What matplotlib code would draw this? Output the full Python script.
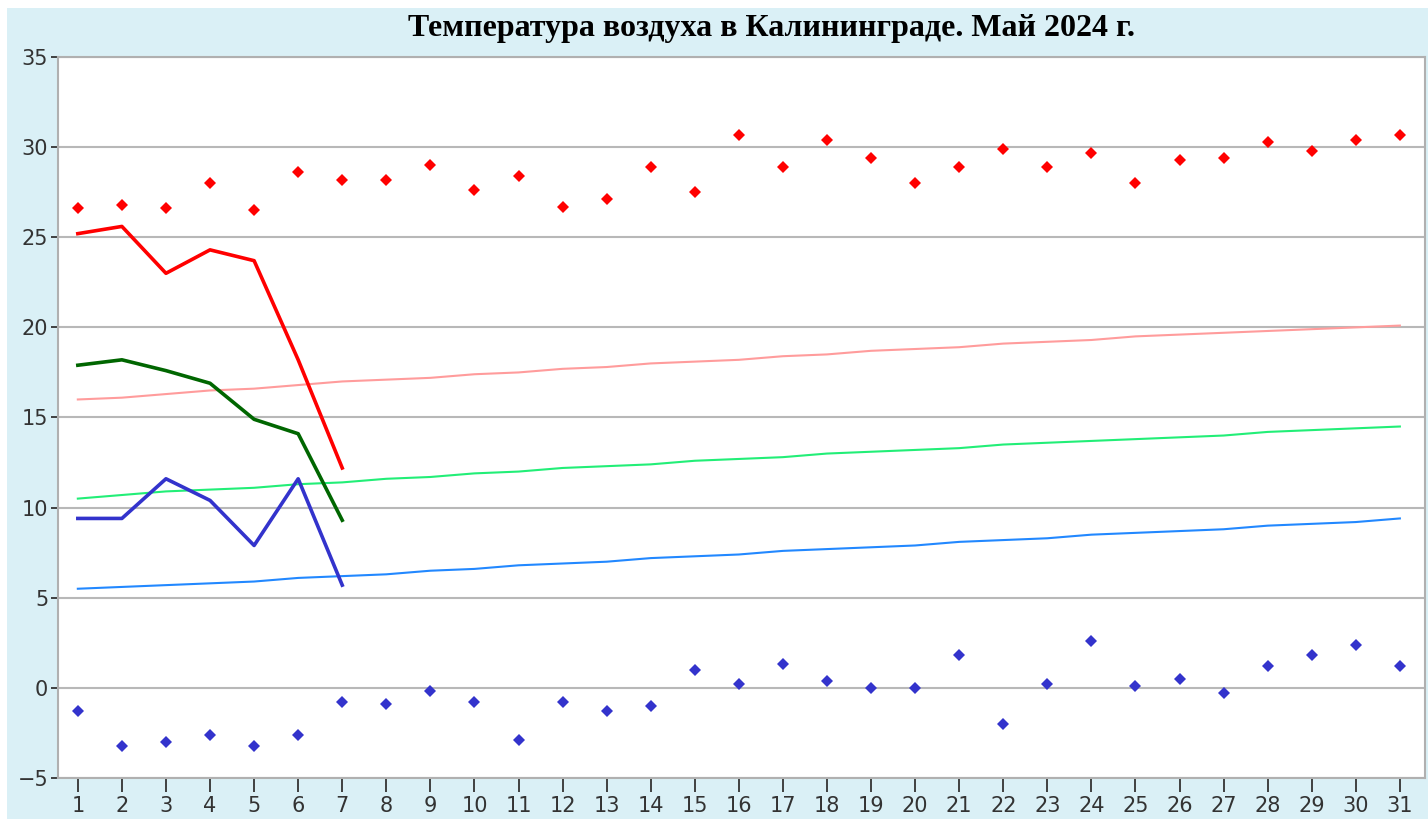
import numpy as np
import matplotlib.pyplot as plt
from matplotlib.patches import Rectangle

days = np.arange(1, 32)

# record max / min for each day of May
rec_max = [26.6, 26.8, 26.6, 28.0, 26.5, 28.6, 28.2, 28.2, 29.0, 27.6,
           28.4, 26.7, 27.1, 28.9, 27.5, 30.7, 28.9, 30.4, 29.4, 28.0,
           28.9, 29.9, 28.9, 29.7, 28.0, 29.3, 29.4, 30.3, 29.8, 30.4, 30.7]
rec_min = [-1.3, -3.2, -3.0, -2.6, -3.2, -2.6, -0.8, -0.9, -0.2, -0.8,
           -2.9, -0.8, -1.3, -1.0, 1.0, 0.2, 1.3, 0.4, 0.0, 0.0,
           1.8, -2.0, 0.2, 2.6, 0.1, 0.5, -0.3, 1.2, 1.8, 2.4, 1.2]

# climate normals
norm_max = [16.0, 16.1, 16.3, 16.5, 16.6, 16.8, 17.0, 17.1, 17.2, 17.4,
            17.5, 17.7, 17.8, 18.0, 18.1, 18.2, 18.4, 18.5, 18.7, 18.8,
            18.9, 19.1, 19.2, 19.3, 19.5, 19.6, 19.7, 19.8, 19.9, 20.0, 20.1]
norm_avg = [10.5, 10.7, 10.9, 11.0, 11.1, 11.3, 11.4, 11.6, 11.7, 11.9,
            12.0, 12.2, 12.3, 12.4, 12.6, 12.7, 12.8, 13.0, 13.1, 13.2,
            13.3, 13.5, 13.6, 13.7, 13.8, 13.9, 14.0, 14.2, 14.3, 14.4, 14.5]
norm_min = [5.5, 5.6, 5.7, 5.8, 5.9, 6.1, 6.2, 6.3, 6.5, 6.6,
            6.8, 6.9, 7.0, 7.2, 7.3, 7.4, 7.6, 7.7, 7.8, 7.9,
            8.1, 8.2, 8.3, 8.5, 8.6, 8.7, 8.8, 9.0, 9.1, 9.2, 9.4]

# May 2024 so far
days_2024 = [1, 2, 3, 4, 5, 6, 7]
max_2024 = [25.2, 25.6, 23.0, 24.3, 23.7, 18.2, 12.2]
avg_2024 = [17.9, 18.2, 17.6, 16.9, 14.9, 14.1, 9.3]
min_2024 = [9.4, 9.4, 11.6, 10.4, 7.9, 11.6, 5.7]

bg = '#daf0f6'
fig = plt.figure(figsize=(14.28, 8.19), dpi=100, facecolor='white')
fig.patches.append(Rectangle((7 / 1428, 0), 1, 1 - 8 / 819, transform=fig.transFigure,
                             facecolor=bg, edgecolor='none', zorder=-10))

ax = fig.add_axes([58 / 1428, 1 - 778 / 819, (1425 - 58) / 1428, (778 - 57) / 819])
ax.set_facecolor('white')

ax.plot(days, norm_max, color='#ff9c9c', lw=1.5, zorder=2)
ax.plot(days, norm_avg, color='#22ee77', lw=1.5, zorder=2)
ax.plot(days, norm_min, color='#2288ff', lw=1.5, zorder=2)

ax.plot(days, rec_max, 'D', color='#ff0000', ms=6, mew=0, zorder=3)
ax.plot(days, rec_min, 'D', color='#3333cc', ms=6, mew=0, zorder=3)

ax.plot(days_2024, max_2024, color='#ff0000', lw=2.6, zorder=4)
ax.plot(days_2024, avg_2024, color='#006600', lw=2.6, zorder=4)
ax.plot(days_2024, min_2024, color='#3333cc', lw=2.6, zorder=4)

ax.set_xlim(0.55, 31.57)
ax.set_ylim(-5, 35)
ax.set_xticks(days)
ax.set_yticks(np.arange(-5, 36, 5))
ax.set_yticklabels(['\u22125' if v == -5 else str(v) for v in range(-5, 36, 5)])
ax.grid(axis='y', color='#b8b8b8', lw=1.5, zorder=0)
ax.set_axisbelow(True)

for s in ax.spines.values():
    s.set_color('#b0b0b0')
    s.set_linewidth(1.5)

ax.tick_params(axis='y', length=5, width=1.3, color='#333333', labelsize=15,
               labelcolor='#333333', pad=2)
ax.tick_params(axis='x', length=10, width=1.3, color='#333333', labelsize=15,
               labelcolor='#333333', pad=3)

fig.text(0.540, 0.965, 'Температура воздуха в Калининграде. Май 2024 г.',
         ha='center', va='center', fontsize=23, fontweight='bold',
         family='Liberation Serif', color='black')

fig.savefig('out.png', dpi=100, facecolor=fig.get_facecolor())
